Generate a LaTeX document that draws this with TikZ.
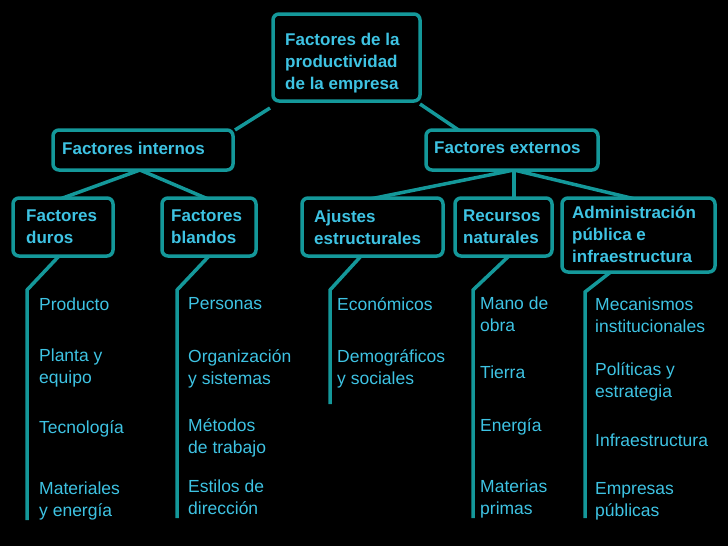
\documentclass[tikz,border=0pt]{standalone}
\usepackage{fontspec}
\setmainfont{Liberation Sans}
\usetikzlibrary{calc}
\definecolor{edge}{HTML}{14989A}
\definecolor{txt}{HTML}{3EC3E3}
\begin{document}
\begin{tikzpicture}[x=1pt,y=-1pt,
  box/.style={draw=edge,line width=3.5pt,rounded corners=6pt,fill=black},
  item/.style={text=txt,font=\fontsize{17.5}{22}\selectfont,align=left,anchor=north west,inner sep=0pt},
  bitem/.style={item,font=\bfseries\fontsize{17}{22}\selectfont},
  con/.style={draw=edge,line width=3.5pt}]
\fill[black] (0,0) rectangle (728,546);
\useasboundingbox (0,0) rectangle (728,546);
% connectors first (behind boxes)
\coordinate (c1) at (270,108); \coordinate (c2) at (235,130);
\coordinate (c3) at (420,104); \coordinate (c4) at (460,131);
\coordinate (i0) at (140,170); \coordinate (i1) at (60,199); \coordinate (i2) at (208,199);
\coordinate (e0) at (514,170); \coordinate (e1) at (370,199); \coordinate (e2) at (514,199); \coordinate (e3) at (635,199);
\draw[con] (c1)--(c2); \draw[con] (c3)--(c4);
\draw[con] (i0)--(i1); \draw[con] (i0)--(i2);
\draw[con] (e0)--(e1); \draw[con] (e0)--(e2); \draw[con] (e0)--(e3);
\coordinate (d0) at (60,255); \coordinate (d1) at (27,290); \coordinate (d2) at (27,520);
\coordinate (b0) at (210,255); \coordinate (b1) at (177,290); \coordinate (b2) at (177,518);
\coordinate (a0) at (362,255); \coordinate (a1) at (330,290); \coordinate (a2) at (330,404);
\coordinate (r0) at (510,255); \coordinate (r1) at (473,290); \coordinate (r2) at (473,518);
\coordinate (m0) at (612,271); \coordinate (m1) at (585,292); \coordinate (m2) at (585,518);
\draw[con] (d0)--(d1)--(d2); \draw[con] (b0)--(b1)--(b2);
\draw[con] (a0)--(a1)--(a2); \draw[con] (r0)--(r1)--(r2); \draw[con] (m0)--(m1)--(m2);
% boxes
\draw[box] (273,14) rectangle (420,101);
\node[bitem] (top) at (285,33) {Factores de la\\productividad\\de la empresa};
\draw[box] (53,130) rectangle (233,170);
\node[bitem] (int) at (62,142) {Factores internos};
\draw[box] (426,130) rectangle (598,170);
\node[bitem] (ext) at (434,142) {Factores externos};
\draw[box] (13,198) rectangle (113,256);
\node[bitem] (duros) at (26,210) {Factores\\duros};
\draw[box] (162,198) rectangle (256,256);
\node[bitem] (bland) at (171,210) {Factores\\blandos};
\draw[box] (302,198) rectangle (443,256);
\node[bitem] (ajus) at (314,210) {Ajustes\\estructurales};
\draw[box] (455,198) rectangle (552,256);
\node[bitem] (recu) at (463,210) {Recursos\\naturales};
\draw[box] (562,198) rectangle (715,272);
\node[bitem] (admin) at (572,206) {Administración\\pública e\\infraestructura};
% items
\node[item] (p1) at (39,298) {Producto};
\node[item] (p2) at (39,349) {Planta y\\equipo};
\node[item] (p3) at (39,420) {Tecnología};
\node[item] (p4) at (39,482) {Materiales\\y energía};
\node[item] (q1) at (188,297) {Personas};
\node[item] (q2) at (188,349) {Organización\\y sistemas};
\node[item] (q3) at (188,418) {Métodos\\de trabajo};
\node[item] (q4) at (188,480) {Estilos de\\dirección};
\node[item] (s1) at (337,297) {Económicos};
\node[item] (s2) at (337,349) {Demográficos\\y sociales};
\node[item] (n1) at (480,297) {Mano de\\obra};
\node[item] (n2) at (480,366) {Tierra};
\node[item] (n3) at (480,418) {Energía};
\node[item] (n4) at (480,480) {Materias\\primas};
\node[item] (g1) at (595,298) {Mecanismos\\institucionales};
\node[item] (g2) at (595,362) {Políticas y\\estrategia};
\node[item] (g3) at (595,434) {Infraestructura};
\node[item] (g4) at (595,482) {Empresas\\públicas};
\end{tikzpicture}
\end{document}
